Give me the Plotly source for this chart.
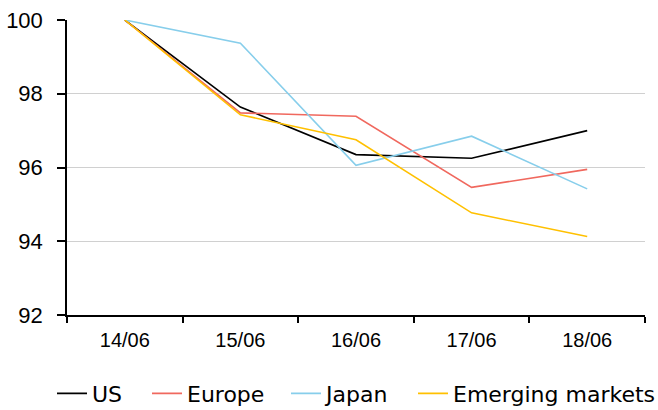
import plotly.graph_objects as go

dates = ["14/06", "15/06", "16/06", "17/06", "18/06"]
us = [100, 97.64, 96.35, 96.25, 97.0]
europe = [100, 97.48, 97.39, 95.46, 95.95]
japan = [100, 99.37, 96.06, 96.85, 95.42]
emerging = [100, 97.43, 96.75, 94.77, 94.13]

series = [
    ("US", us, "#000000"),
    ("Europe", europe, "#F0685E"),
    ("Japan", japan, "#87CEEB"),
    ("Emerging markets", emerging, "#FFC000"),
]
# legend text left edges (px) as seen in the reference
legend_text_x = [92, 187, 326, 453]
legend_names = ["legend", "legend2", "legend3", "legend4"]

fig = go.Figure()
for (name, vals, col), lg in zip(series, legend_names):
    fig.add_trace(go.Scatter(x=dates, y=vals, name=name, mode="lines", legend=lg,
                             line=dict(color=col, width=1.6)))

font = "Liberation Sans, Arial, sans-serif"
W = 658
legend_cfg = {}
for lg, tx in zip(legend_names, legend_text_x):
    legend_cfg[lg] = dict(orientation="h", xref="container", x=(tx - 40) / W, xanchor="left",
                          y=-0.195, yanchor="top", itemwidth=30, bgcolor="rgba(0,0,0,0)",
                          font=dict(size=22, family="DejaVu Sans, sans-serif"))

fig.update_layout(
    width=W, height=410,
    margin=dict(l=67, r=13, t=20, b=95, autoexpand=False),
    paper_bgcolor="white", plot_bgcolor="white",
    font=dict(family=font, color="#000000"),
    showlegend=True,
    xaxis=dict(type="category", range=[-0.5, 4.5], tickson="boundaries",
               showline=True, linecolor="#000000", linewidth=1.5,
               ticks="outside", ticklen=6, tickcolor="#000000", tickwidth=1.5,
               showgrid=False, tickfont=dict(size=20), ticklabelstandoff=6),
    yaxis=dict(range=[92, 100], dtick=2, showline=True, linecolor="#000000", linewidth=1.5,
               ticks="outside", ticklen=8, tickcolor="#000000", tickwidth=1.5,
               showgrid=True, gridcolor="#D0D0D0", gridwidth=1.2, zeroline=False,
               tickfont=dict(size=22), ticklabelstandoff=10),
    **legend_cfg,
)

fig.write_html("out.html", config={"displayModeBar": False},
               post_script="document.body.style.margin='0';")
